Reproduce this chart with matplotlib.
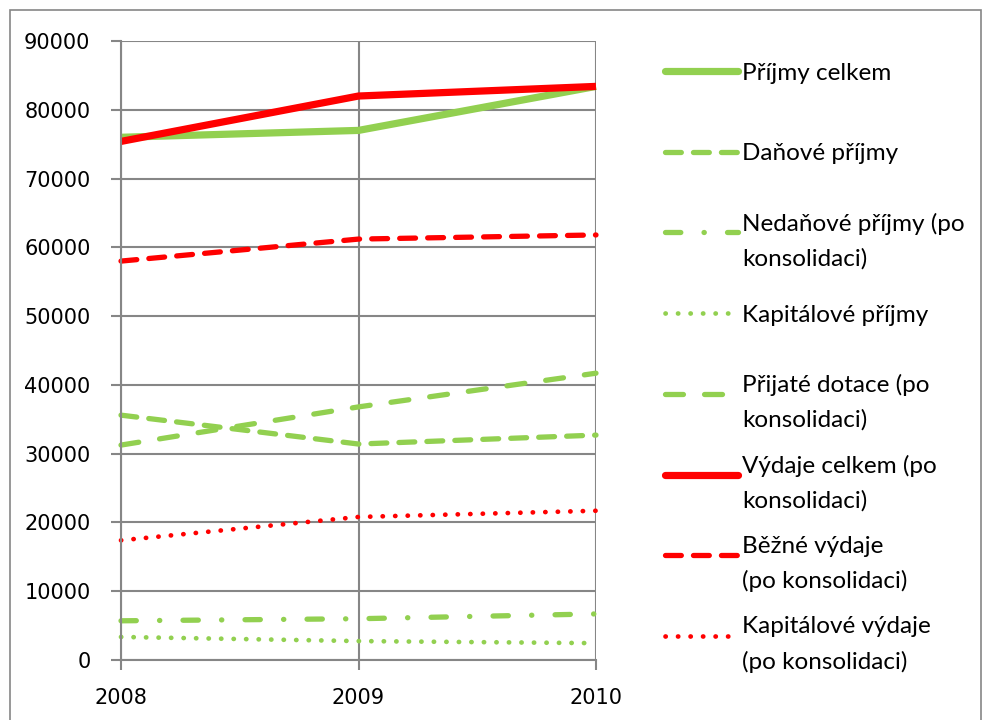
import matplotlib.pyplot as plt
from matplotlib.lines import Line2D
from matplotlib.patches import Rectangle

# roky a hodnoty (mil. Kč)
roky = [2008, 2009, 2010]
prijmy_celkem = [76000, 77000, 83400]
danove_prijmy = [35600, 31400, 32700]
nedanove_prijmy = [5700, 6000, 6700]
kapitalove_prijmy = [3350, 2750, 2450]
prijate_dotace = [31250, 36800, 41700]
vydaje_celkem = [75400, 82000, 83400]
bezne_vydaje = [58000, 61200, 61800]
kapitalove_vydaje = [17400, 20800, 21700]

zelena = '#92D050'
cervena = '#FF0000'
seda = '#868686'

nazvy = ['Příjmy celkem', 'Daňové příjmy', 'Nedaňové příjmy (po\nkonsolidaci)',
         'Kapitálové příjmy', 'Přijaté dotace (po\nkonsolidaci)',
         'Výdaje celkem (po\nkonsolidaci)', 'Běžné výdaje\n(po konsolidaci)',
         'Kapitálové výdaje\n(po konsolidaci)']
data = [prijmy_celkem, danove_prijmy, nedanove_prijmy, kapitalove_prijmy,
        prijate_dotace, vydaje_celkem, bezne_vydaje, kapitalove_vydaje]
barvy = [zelena] * 5 + [cervena] * 3
# (sirka, styl carky)
styly = [
    (5.2, None),
    (3.8, (0, (3.0, 2.3))),
    (3.8, (0, (2.9, 4.4, 0.05, 4.4))),
    (3.4, (0, (0.05, 2.6))),
    (3.8, (0, (3.4, 4.0))),
    (5.2, None),
    (3.8, (0, (3.0, 2.3))),
    (3.4, (0, (0.05, 2.6))),
]

fig = plt.figure(figsize=(9.82, 7.2), dpi=100)
ax = fig.add_axes([121 / 982, 60 / 720, 475 / 982, 619 / 720])

fig.add_artist(Rectangle((10 / 982, -0.01), 971 / 982, 1 - 10 / 720 + 0.01,
                         transform=fig.transFigure, fill=False,
                         edgecolor=seda, linewidth=1.2))

for y, c, (lw, ls) in zip(data, barvy, styly):
    kw = dict(color=c, linewidth=lw, solid_capstyle='butt', solid_joinstyle='miter')
    if ls is not None:
        kw.update(linestyle=ls, dash_capstyle='round')
    ax.plot(roky, y, clip_on=False, **kw)

ax.set_xlim(2008, 2010)
ax.set_ylim(0, 90000)
ax.set_xticks(roky)
ax.set_yticks(range(0, 90001, 10000))
ax.grid(True, color=seda, linewidth=1.5)
ax.set_axisbelow(True)
for s in ['top', 'right']:
    ax.spines[s].set_visible(False)
for s in ['left', 'bottom']:
    ax.spines[s].set_color(seda)
    ax.spines[s].set_linewidth(1.5)
ax.tick_params(axis='both', direction='out', length=7, width=1.5, color=seda,
               labelsize=15, labelcolor='black')
ax.tick_params(axis='y', pad=15)
ax.tick_params(axis='x', pad=13)

# legenda vpravo
for i, (nazev, c, (lw, ls)) in enumerate(zip(nazvy, barvy, styly)):
    yy = 1 - (71 + 80.7 * i) / 720
    ln = Line2D([665 / 982, 738 / 982], [yy, yy], transform=fig.transFigure,
                color=c, linewidth=lw, solid_capstyle='round')
    if ls is not None:
        ln.set_linestyle(ls)
        ln.set_dash_capstyle('round')
    fig.add_artist(ln)
    fig.text(742 / 982, yy, nazev, fontsize=17.5, family=['Lato', 'DejaVu Sans'],
             va='center_baseline', ha='left', linespacing=1.75)

fig.savefig('out.png', dpi=100)
